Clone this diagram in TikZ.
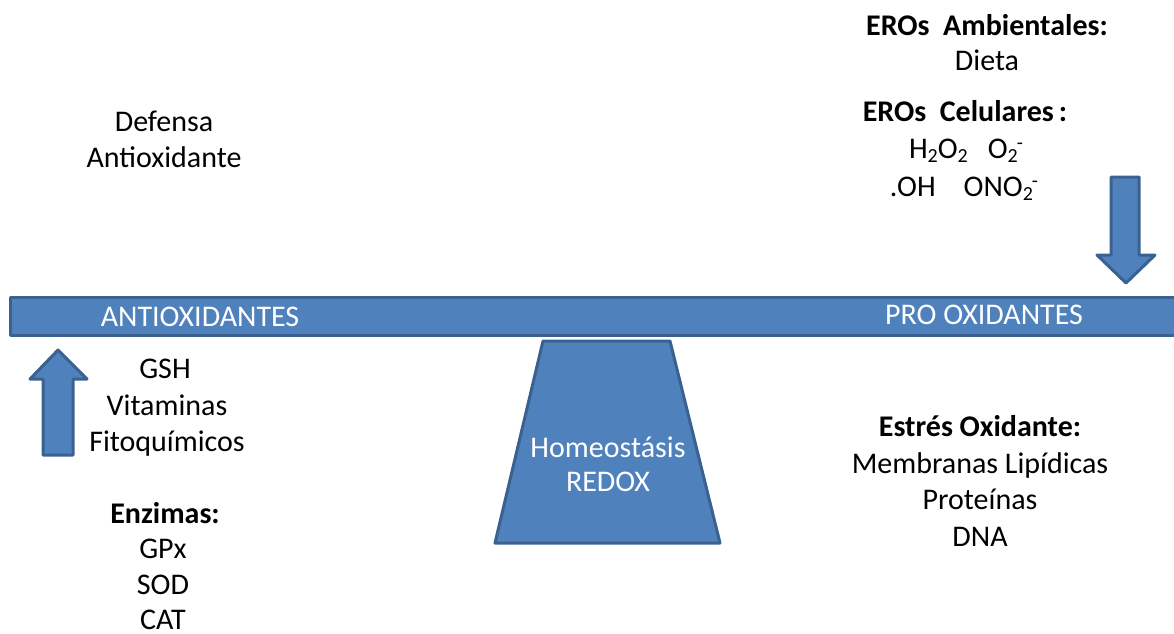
\documentclass[tikz,border=0pt]{standalone}
\usepackage{fontspec}
\setmainfont{Carlito}
\definecolor{bfill}{HTML}{4F81BD}
\definecolor{bdraw}{HTML}{3A6190}
\newcommand{\sbs}[1]{\raisebox{-4pt}{\fontsize{20}{24}\selectfont #1}}
\newcommand{\sps}[1]{\raisebox{9pt}{\fontsize{20}{24}\selectfont #1}}
\tikzset{
  blueshape/.style={fill=bfill, draw=bdraw, line width=3pt, line join=round},
  txt/.style={anchor=base, inner sep=0pt, font=\fontsize{30}{36}\selectfont, text=black},
  btxt/.style={txt, font=\fontsize{30}{36}\selectfont\bfseries},
  wtxt/.style={txt, text=white}
}
\begin{document}
\begin{tikzpicture}[x=1pt,y=-1pt]
\useasboundingbox (0,0) rectangle (1174,633);
\clip (0,0) rectangle (1174,633);
% beam
\draw[blueshape] (10,297) rectangle (1190,335);
% pivot trapezoid
\draw[blueshape] (543,341) -- (670,341) -- (720,543) -- (495,543) -- cycle;
\node[wtxt] (h1) at (608,457) {Homeostásis};
\node[wtxt] (h2) at (608,491) {REDOX};
% up arrow (left)
\draw[blueshape] (58,350) -- (87,379) -- (73,379) -- (73,455) -- (43,455) -- (43,379) -- (30,379) -- cycle;
% down arrow (right)
\draw[blueshape] (1111,177) -- (1139,177) -- (1139,255) -- (1155,255) -- (1126,283) -- (1097,255) -- (1111,255) -- cycle;
% beam labels
\node[wtxt] (anti) at (200,326) {ANTIOXIDANTES};
\node[wtxt] (pro) at (984,324) {PRO OXIDANTES};
% left top
\node[txt] (d1) at (164,131) {Defensa};
\node[txt] (d2) at (164,167) {Antioxidante};
% left bottom
\node[txt] (g1) at (165,378) {GSH};
\node[txt] (g2) at (167,415) {Vitaminas};
\node[txt] (g3) at (167,451) {Fitoquímicos};
\node[btxt] (e0) at (165,523) {Enzimas:};
\node[txt] (e1) at (163,558) {GPx};
\node[txt] (e2) at (163,594) {SOD};
\node[txt] (e3) at (163,629) {CAT};
% right top
\node[btxt] (r1) at (987,35) {EROs\ \ Ambientales:};
\node[txt] (r2) at (987,70) {Dieta};
\node[btxt] (r3) at (965,121) {EROs\ \ Celulares\,:};
\node[txt] (r4) at (966,158) {H\sbs{2}O\sbs{2}\hspace{20pt}O\sbs{2}\hspace{-1pt}\sps{-}};
\node[txt] (r5) at (964,196) {.OH\hspace{28pt}ONO\sbs{2}\hspace{-1pt}\sps{-}};
% right bottom
\node[btxt] (s0) at (980,436) {Estrés Oxidante:};
\node[txt] (s1) at (980,473) {Membranas Lipídicas};
\node[txt] (s2) at (980,509) {Proteínas};
\node[txt] (s3) at (980,546) {DNA};
\end{tikzpicture}
\end{document}
